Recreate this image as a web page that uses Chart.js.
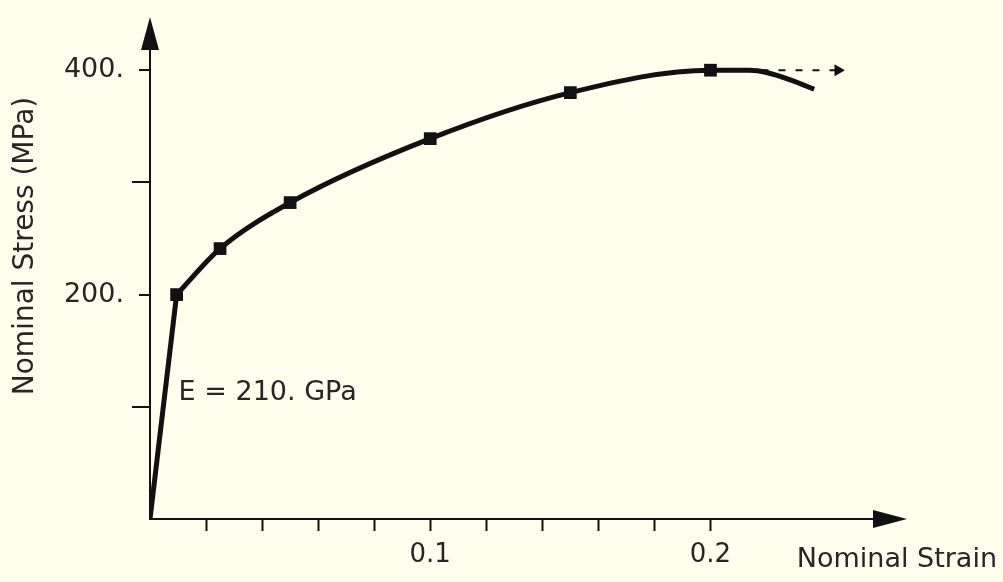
<!DOCTYPE html>
<html>
<head>
<meta charset="utf-8">
<title>Nominal stress-strain curve</title>
<style>
  html, body { margin: 0; padding: 0; background: #fffdec; }
  #wrap { width: 1003px; height: 582px; position: relative; }
</style>
<script src="https://cdn.jsdelivr.net/npm/chart.js@4/dist/chart.umd.min.js"></script>
</head>
<body>
<div id="wrap"><canvas id="c" width="1003" height="582"></canvas></div>
<script>
// Elastic branch (straight line from the origin to yield)
const elasticStrain = [0, 0.0095];
const elasticStress = [0, 200];
// Plastic branch up to the peak and the softening tail
const plasticStrain = [0.0095, 0.025, 0.05, 0.1, 0.15, 0.2, 0.214, 0.22, 0.229, 0.237];
const plasticStress = [200, 241, 282, 339, 380, 400, 400, 398, 391, 383];
// Tabulated points shown as square markers
const markerStrain = [0.0095, 0.025, 0.05, 0.1, 0.15, 0.2];
const markerStress = [200, 241, 282, 339, 380, 400];
// Constant-stress extrapolation beyond the last point
const extrapStrain = [0.2, 0.2455];
const extrapStress = [400, 400];

// Axis ticks
const xTickMarks = [0.02, 0.04, 0.06, 0.08, 0.1, 0.12, 0.14, 0.16, 0.18, 0.2];
const xTickValues = [0.1, 0.2];
const xTickLabels = ['0.1', '0.2'];
const yTickMarks = [100, 200, 300, 400];
const yTickValues = [200, 400];
const yTickLabels = ['200.', '400.'];

const xTitle = 'Nominal Strain';
const yTitle = 'Nominal Stress (MPa)';
const modulusLabel = 'E = 210. GPa';
const modulusLabelAt = [0.0095, 108];

const INK = '#111111';
const TEXT = '#262626';
const FONT = '"DejaVu Sans", "Liberation Sans", sans-serif';

const pts = (xs, ys) => xs.map((x, i) => ({ x, y: ys[i] }));
const near = (a, b) => Math.abs(a - b) < 1e-6;

const decorations = {
  id: 'decorations',
  beforeDraw(chart) {
    const { ctx, width, height } = chart;
    ctx.save();
    ctx.fillStyle = '#fffdec';
    ctx.fillRect(0, 0, width, height);
    ctx.restore();
  },
  afterDraw(chart) {
    const { ctx, chartArea: a, scales: { x, y } } = chart;
    ctx.save();
    ctx.fillStyle = INK;
    ctx.strokeStyle = INK;

    // arrow heads on both axes
    ctx.beginPath();
    ctx.moveTo(a.left, a.top - 33);
    ctx.lineTo(a.left - 9, a.top);
    ctx.lineTo(a.left + 9, a.top);
    ctx.closePath();
    ctx.fill();
    ctx.beginPath();
    ctx.moveTo(a.right + 34, a.bottom);
    ctx.lineTo(a.right, a.bottom - 9);
    ctx.lineTo(a.right, a.bottom + 9);
    ctx.closePath();
    ctx.fill();

    // stress ticks: long unlabelled, short labelled
    ctx.lineWidth = 2;
    yTickMarks.forEach(v => {
      const py = Math.round(y.getPixelForValue(v));
      const len = yTickValues.some(t => near(t, v)) ? 11 : 18;
      ctx.beginPath();
      ctx.moveTo(a.left - len, py);
      ctx.lineTo(a.left, py);
      ctx.stroke();
    });

    // axis titles and the modulus note
    ctx.fillStyle = TEXT;
    ctx.font = '27px ' + FONT;
    ctx.textAlign = 'right';
    ctx.textBaseline = 'alphabetic';
    ctx.fillText(xTitle, 997, 567);

    ctx.textAlign = 'left';
    ctx.fillText(modulusLabel, x.getPixelForValue(modulusLabelAt[0]) + 2, y.getPixelForValue(modulusLabelAt[1]) + 2);

    ctx.save();
    ctx.translate(26, 246);
    ctx.rotate(-Math.PI / 2);
    ctx.textAlign = 'center';
    ctx.textBaseline = 'middle';
    ctx.font = '28px ' + FONT;
    ctx.fillText(yTitle, 0, 0);
    ctx.restore();

    ctx.restore();
  }
};

new Chart(document.getElementById('c'), {
  type: 'line',
  data: {
    datasets: [
      {
        data: pts(extrapStrain, extrapStress),
        borderColor: INK,
        borderWidth: 2,
        borderDash: [7, 10],
        pointRadius: [0, 7],
        pointStyle: 'triangle',
        rotation: 90,
        pointBackgroundColor: INK,
        pointBorderColor: INK,
        pointBorderWidth: 0,
        tension: 0
      },
      {
        data: pts(elasticStrain, elasticStress),
        borderColor: INK,
        borderWidth: 5,
        pointRadius: 0,
        tension: 0
      },
      {
        data: pts(plasticStrain, plasticStress),
        borderColor: INK,
        borderWidth: 5,
        pointRadius: 0,
        cubicInterpolationMode: 'monotone'
      },
      {
        data: pts(markerStrain, markerStress),
        showLine: false,
        pointStyle: 'rect',
        pointRadius: 9,
        pointBackgroundColor: INK,
        pointBorderColor: INK,
        pointBorderWidth: 0
      }
    ]
  },
  options: {
    responsive: false,
    devicePixelRatio: 1,
    animation: false,
    events: [],
    layout: { padding: { top: 50, right: 130, bottom: 0, left: 0 } },
    plugins: { legend: { display: false }, tooltip: { enabled: false } },
    scales: {
      x: {
        type: 'linear',
        min: 0,
        max: 0.258,
        afterFit: s => { s.height = 63; },
        afterBuildTicks: s => { s.ticks = xTickMarks.map(v => ({ value: v })); },
        border: { display: true, color: INK, width: 2 },
        grid: {
          drawOnChartArea: false,
          drawTicks: true,
          tickLength: 12,
          tickWidth: 2,
          tickColor: INK
        },
        ticks: {
          autoSkip: false,
          maxRotation: 0,
          padding: 9,
          color: TEXT,
          font: { family: FONT, size: 26 },
          callback: v => {
            const i = xTickValues.findIndex(t => near(t, v));
            return i >= 0 ? xTickLabels[i] : '';
          }
        }
      },
      y: {
        type: 'linear',
        min: 0,
        max: 418,
        afterFit: s => { s.width = 150; },
        afterBuildTicks: s => { s.ticks = yTickMarks.map(v => ({ value: v })); },
        border: { display: true, color: INK, width: 2 },
        grid: { drawOnChartArea: false, drawTicks: false },
        ticks: {
          autoSkip: false,
          padding: 26,
          color: TEXT,
          font: { family: FONT, size: 27 },
          callback: v => {
            const i = yTickValues.findIndex(t => near(t, v));
            return i >= 0 ? yTickLabels[i] : '';
          }
        }
      }
    }
  },
  plugins: [decorations]
});
</script>
</body>
</html>
